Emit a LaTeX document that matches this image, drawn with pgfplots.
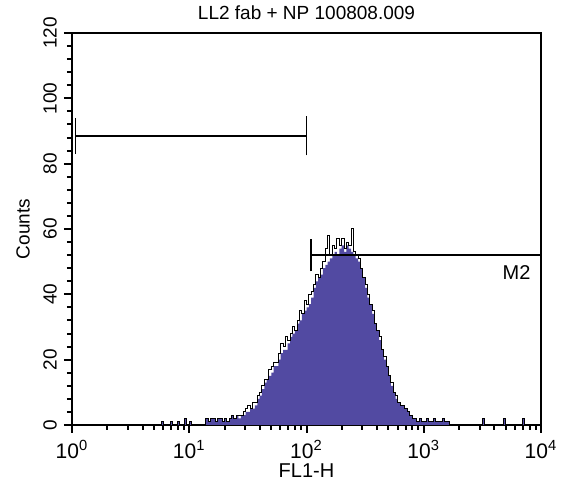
\documentclass[border=0pt]{standalone}
\usepackage{fontspec}
\setmainfont{Liberation Sans}
\usepackage{pgfplots}
\usepackage{pgfplotstable}
\pgfplotsset{compat=1.18}
\definecolor{histfill}{RGB}{82,74,162}
\pgfplotstableread{
x f o
0.70 0 0
0.76 1 1
0.78 0 0
0.84 1 1
0.86 0 0
0.90 1 1
0.92 0 0
0.96 2 2
0.98 0 0
1.00 1 1
1.02 0 0
1.14 2 2
1.16 1 1
1.18 2 2
1.20 2 2
1.22 1 1
1.24 2 2
1.26 2 2
1.28 1 1
1.30 2 2
1.32 1 1
1.34 2 2
1.36 3 3
1.38 2 2
1.40 3 3
1.42 2 3
1.44 3 3
1.46 3 4
1.48 4 5
1.50 4 6
1.52 5 5
1.54 5 7
1.56 6 7
1.58 8 9
1.60 9 10
1.62 11 12
1.64 13 14
1.66 14 14
1.68 15 17
1.70 16 18
1.72 18 19
1.74 18 19
1.76 20 22
1.78 22 25
1.80 23 24
1.82 23 27
1.84 25 26
1.86 27 28
1.88 28 30
1.90 29 29
1.92 31 32
1.94 32 35
1.96 34 34
1.98 35 38
2.00 36 37
2.02 37 40
2.04 39 41
2.06 42 43
2.08 44 46
2.10 45 45
2.12 46 48
2.14 48 50
2.16 49 54
2.18 50 58
2.20 51 52
2.22 52 55
2.24 53 54
2.26 52 57
2.28 54 55
2.30 55 57
2.32 53 54
2.34 55 56
2.36 54 55
2.38 53 60
2.40 52 53
2.42 51 52
2.44 50 51
2.46 48 48
2.48 45 45
2.50 42 43
2.52 39 40
2.54 37 37
2.56 34 35
2.58 31 31
2.60 29 29
2.62 26 27
2.64 23 23
2.66 20 21
2.68 18 18
2.70 15 15
2.72 12 13
2.74 10 10
2.76 8 9
2.78 7 7
2.80 6 6
2.82 6 6
2.84 5 5
2.86 4 4
2.88 3 3
2.90 2 2
2.92 2 2
2.94 1 1
2.96 2 2
2.98 1 1
3.00 1 1
3.02 2 2
3.04 1 1
3.06 1 1
3.08 2 2
3.10 1 1
3.12 1 1
3.14 1 1
3.16 2 2
3.18 1 1
3.20 1 1
3.22 0 0
3.50 2 2
3.52 0 0
3.68 2 2
3.70 0 0
3.84 2 2
3.86 0 0
4.00 0 0
}\hist
\begin{document}
\begin{tikzpicture}
\begin{axis}[
  scale only axis,
  width=234.5pt, height=196pt,
  xmin=0, xmax=4, ymin=0, ymax=120,
  axis line style={line width=1.2pt},
  tick pos=left,
  tick align=outside,
  major tick length=4pt,
  minor tick length=2.5pt,
  every tick/.style={black, line width=1pt},
  xtick={0,1,2,3,4},
  xticklabels={10\textsuperscript{0},10\textsuperscript{1},10\textsuperscript{2},10\textsuperscript{3},10\textsuperscript{4}},
  minor xtick={0.30103,0.47712,0.60206,0.69897,0.77815,0.84510,0.90309,0.95424,
               1.30103,1.47712,1.60206,1.69897,1.77815,1.84510,1.90309,1.95424,
               2.30103,2.47712,2.60206,2.69897,2.77815,2.84510,2.90309,2.95424,
               3.30103,3.47712,3.60206,3.69897,3.77815,3.84510,3.90309,3.95424},
  ytick={0,20,40,60,80,100,120},
  minor y tick num=4,
  /pgf/number format/assume math mode=true,
  yticklabel style={rotate=90, anchor=south, font=\fontsize{9.5}{11}\selectfont},
  xticklabel style={font=\fontsize{10.5}{12}\selectfont},
  title={LL2 fab + NP 100808.009},
  title style={font=\fontsize{9.5}{11}\selectfont, yshift=-3pt},
  xlabel={FL1-H},
  xlabel style={font=\fontsize{10}{12}\selectfont, yshift=4pt},
  ylabel={Counts},
  ylabel style={font=\fontsize{9.5}{11}\selectfont, yshift=0pt},
  clip=false,
]
\addplot[fill=histfill, draw=none, const plot mark left] table[x=x,y=f] {\hist} \closedcycle;
\addplot[black, line width=0.5pt, const plot mark left] table[x=x,y=o] {\hist};
% M1 marker
\addplot[black, line width=0.9pt] coordinates {(0.03,88.5) (2.0,88.5)};
\addplot[black, line width=0.9pt] coordinates {(0.03,83) (0.03,94)};
\addplot[black, line width=0.9pt] coordinates {(2.0,82.5) (2.0,94.5)};
% M2 marker
\addplot[black, line width=0.9pt] coordinates {(2.04,52) (4.0,52)};
\addplot[black, line width=0.9pt] coordinates {(2.04,47) (2.04,57)};
\node[anchor=north east, font=\fontsize{10}{12}\selectfont, inner sep=1pt] at (axis cs:3.93,49.5) {M2};
\end{axis}
\pgfresetboundingbox
\path (current axis.south west) ++(-36pt,-32.5pt) coordinate (bl);
\path (current axis.north east) ++(10pt,16.5pt) coordinate (tr);
\path (bl) rectangle (tr);
\end{tikzpicture}
\end{document}
